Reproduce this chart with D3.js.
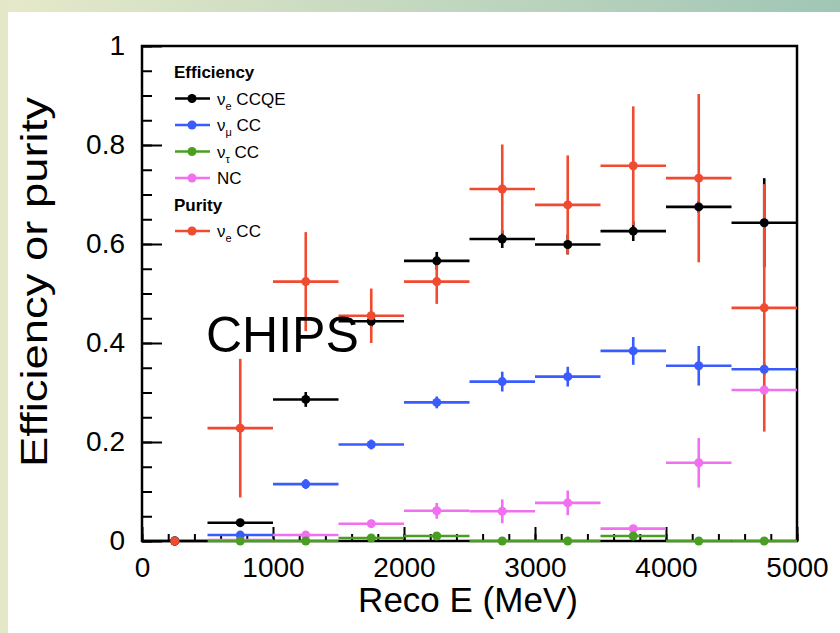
<!DOCTYPE html>
<html>
<head>
<meta charset="utf-8">
<script src="https://cdn.jsdelivr.net/npm/d3@7"></script>
<style>
  body { margin: 0; background: #fff; }
  svg text { font-family: "Liberation Sans", Arial, sans-serif; }
</style>
</head>
<body>
<div id="chart"></div>
<script>
// bins of 500 MeV, x error = half bin width
var binCenters = [250, 750, 1250, 1750, 2250, 2750, 3250, 3750, 4250, 4750];
var binHalf = 250;

// efficiency nu_e CCQE
var effNueCCQE = [0, 0.037, 0.286, 0.444, 0.566, 0.610, 0.599, 0.626, 0.675, 0.643];
var effNueCCQEErr = [0, 0.006, 0.015, 0.012, 0.018, 0.018, 0.020, 0.020, 0.012, 0.090];
// efficiency nu_mu CC
var effNumuCC = [0, 0.012, 0.115, 0.195, 0.280, 0.322, 0.332, 0.384, 0.354, 0.347];
var effNumuCCErr = [0, 0.004, 0.010, 0.010, 0.012, 0.020, 0.020, 0.028, 0.040, 0.012];
// efficiency nu_tau CC
var effNutauCC = [0, 0, 0, 0.006, 0.010, 0, 0, 0.010, 0, 0];
var effNutauCCErr = [0, 0, 0, 0.003, 0.004, 0, 0, 0.004, 0, 0];
// efficiency NC
var effNC = [0, 0.002, 0.012, 0.035, 0.061, 0.060, 0.077, 0.025, 0.158, 0.305];
var effNCErr = [0, 0.002, 0.006, 0.008, 0.016, 0.024, 0.025, 0.005, 0.050, 0.010];
// purity nu_e CC
var purNueCC = [0, 0.228, 0.524, 0.455, 0.524, 0.711, 0.679, 0.758, 0.733, 0.471];
var purNueCCErr = [0, 0.140, 0.100, 0.055, 0.045, 0.090, 0.100, 0.120, 0.170, 0.250];

var xTicks = [0, 1000, 2000, 3000, 4000, 5000];
var yTicks = [0, 0.2, 0.4, 0.6, 0.8, 1];
var yTickLabels = ["0", "0.2", "0.4", "0.6", "0.8", "1"];

const WIDTH = 840, HEIGHT = 633;
const L = 142, R = 797, T = 46, B = 541;

const colors = {
  black: "#000000",
  blue: "#3a5cff",
  green: "#4a9e22",
  magenta: "#f070f0",
  red: "#f04a30"
};

var svg = d3.select("#chart").append("svg")
  .attr("width", WIDTH)
  .attr("height", HEIGHT);

// slide background
var defs = svg.append("defs");
var grad = defs.append("linearGradient").attr("id", "topband");
grad.append("stop").attr("offset", "0%").attr("stop-color", "#e6e9c9");
grad.append("stop").attr("offset", "100%").attr("stop-color", "#a0c6b6");
svg.append("rect").attr("width", WIDTH).attr("height", HEIGHT).attr("fill", "#fff");
svg.append("rect").attr("width", WIDTH).attr("height", 12).attr("fill", "url(#topband)");
svg.append("rect").attr("width", 8).attr("height", HEIGHT).attr("fill", "#e4e8c8");

var x = d3.scaleLinear().domain([0, 5000]).range([L, R]);
var y = d3.scaleLinear().domain([0, 1]).range([B, T]);

// minor ticks
svg.append("g")
  .attr("transform", "translate(0," + B + ")")
  .call(d3.axisBottom(x).tickValues(d3.range(0, 5001, 200)).tickSize(-7).tickFormat(""))
  .call(g => g.select(".domain").remove())
  .call(g => g.selectAll("line").attr("stroke-width", 2));
svg.append("g")
  .attr("transform", "translate(" + L + ",0)")
  .call(d3.axisLeft(y).tickValues(d3.range(0, 1.001, 0.05)).tickSize(-10).tickFormat(""))
  .call(g => g.select(".domain").remove())
  .call(g => g.selectAll("line").attr("stroke-width", 2));

// major ticks + labels
svg.append("g")
  .attr("transform", "translate(0," + B + ")")
  .call(d3.axisBottom(x).tickValues(xTicks).tickSize(-14).tickPadding(16).tickFormat(d3.format("d")))
  .call(g => g.select(".domain").remove())
  .call(g => g.selectAll("line").attr("stroke-width", 2))
  .call(g => g.selectAll("text").attr("font-size", 28).attr("fill", "#000")
    .attr("font-family", "Liberation Sans, Arial, sans-serif"));
svg.append("g")
  .attr("transform", "translate(" + L + ",0)")
  .call(d3.axisLeft(y).tickValues(yTicks).tickSize(-20).tickPadding(17)
    .tickFormat((d, i) => yTickLabels[i]))
  .call(g => g.select(".domain").remove())
  .call(g => g.selectAll("line").attr("stroke-width", 2))
  .call(g => g.selectAll("text").attr("font-size", 28).attr("fill", "#000")
    .attr("font-family", "Liberation Sans, Arial, sans-serif"));

// frame
svg.append("rect")
  .attr("x", L).attr("y", T)
  .attr("width", R - L).attr("height", B - T)
  .attr("fill", "none").attr("stroke", "#000").attr("stroke-width", 2.5);

// axis titles
svg.append("text")
  .attr("x", 468).attr("y", 612)
  .attr("text-anchor", "middle")
  .attr("font-size", 35)
  .text("Reco E (MeV)");
svg.append("text")
  .attr("transform", "translate(47,282) rotate(-90)")
  .attr("text-anchor", "middle")
  .attr("font-size", 36)
  .attr("textLength", 370)
  .attr("lengthAdjust", "spacingAndGlyphs")
  .text("Efficiency or purity");

// series (drawing order: last is on top)
var series = [
  { vals: effNC, errs: effNCErr, color: colors.magenta },
  { vals: effNumuCC, errs: effNumuCCErr, color: colors.blue },
  { vals: effNutauCC, errs: effNutauCCErr, color: colors.green },
  { vals: effNueCCQE, errs: effNueCCQEErr, color: colors.black },
  { vals: purNueCC, errs: purNueCCErr, color: colors.red }
];

function points(s) {
  return binCenters.map(function(c, i) {
    return { c: c, v: s.vals[i], e: s.errs[i], i: i };
  });
}

series.forEach(function(s) {
  var g = svg.append("g").attr("stroke", s.color).attr("stroke-width", 2.6);
  g.selectAll(".hbar")
    .data(points(s).filter(d => d.i > 0 || s.color === colors.black))
    .enter().append("line")
    .attr("x1", d => x(d.c - binHalf))
    .attr("x2", d => x(d.c + binHalf))
    .attr("y1", d => y(d.v))
    .attr("y2", d => y(d.v));
  g.selectAll(".vbar")
    .data(points(s).filter(d => d.e > 0))
    .enter().append("line")
    .attr("x1", d => x(d.c))
    .attr("x2", d => x(d.c))
    .attr("y1", d => y(Math.max(0, d.v - d.e)))
    .attr("y2", d => y(d.v + d.e));
});

series.forEach(function(s) {
  svg.append("g").selectAll("circle")
    .data(points(s))
    .enter().append("circle")
    .attr("cx", d => x(d.c))
    .attr("cy", d => y(d.v))
    .attr("r", 4.5)
    .attr("fill", s.color);
});

// legend
var legendRows = [
  { title: "Efficiency" },
  { nu: "e", label: " CCQE", color: colors.black },
  { nu: "\u03bc", label: " CC", color: colors.blue },
  { nu: "\u03c4", label: " CC", color: colors.green },
  { label: "NC", color: colors.magenta },
  { title: "Purity" },
  { nu: "e", label: " CC", color: colors.red }
];

var legend = svg.append("g");
legendRows.forEach(function(r, i) {
  var cy = 72 + i * 26.5;
  if (r.title) {
    legend.append("text")
      .attr("x", 174).attr("y", cy + 6)
      .attr("font-size", 17).attr("font-weight", "bold")
      .text(r.title);
    return;
  }
  legend.append("line")
    .attr("x1", 175).attr("x2", 210)
    .attr("y1", cy).attr("y2", cy)
    .attr("stroke", r.color).attr("stroke-width", 2.6);
  legend.append("circle")
    .attr("cx", 192).attr("cy", cy).attr("r", 4.5).attr("fill", r.color);
  var t = legend.append("text")
    .attr("x", 217).attr("y", cy + 6)
    .attr("font-size", 17);
  if (r.nu) {
    t.append("tspan").text("\u03bd");
    t.append("tspan").attr("font-size", 11).attr("dy", 5).text(r.nu);
    t.append("tspan").attr("dy", -5).text(r.label);
  } else {
    t.text(r.label);
  }
});

// slide annotation
svg.append("text")
  .attr("x", 206).attr("y", 352)
  .attr("font-family", "Open Sans, sans-serif")
  .attr("font-size", 50)
  .attr("fill", "#000")
  .text("CHIPS");
</script>
</body>
</html>
